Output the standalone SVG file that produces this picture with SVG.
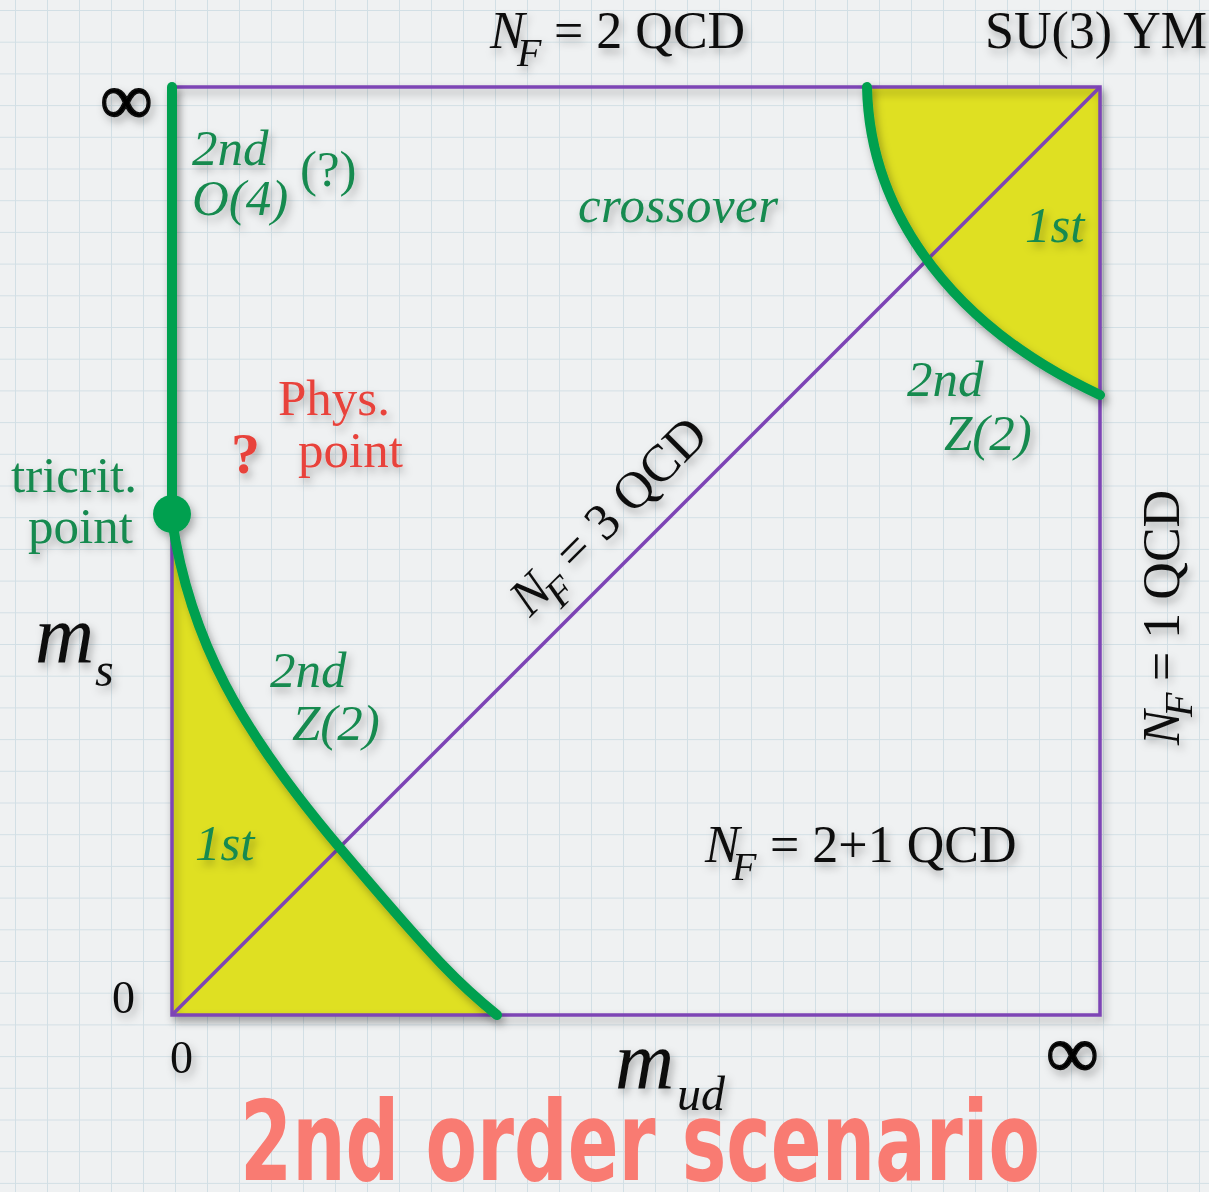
<svg xmlns="http://www.w3.org/2000/svg" width="1209" height="1192" viewBox="0 0 1209 1192">
<defs>
<pattern id="grid" patternUnits="userSpaceOnUse" x="15" y="10" width="32" height="31.7">
<path d="M0,0 H32 M0,0 V31.7" stroke="#d2dfe5" stroke-width="2" fill="none"/>
</pattern>
<filter id="sh" x="-20%" y="-20%" width="140%" height="140%">
<feDropShadow dx="3" dy="5" stdDeviation="4" flood-color="#000" flood-opacity="0.3"/>
</filter>
<style>
.t{font-family:"Liberation Serif","Times New Roman",serif;font-size:51px}
.nf{font-size:52px}
.i{font-style:italic}
.g{fill:#198a50}
.k{fill:#111}
.r{fill:#e8423b}
.sub{font-size:40px}
.big{font-size:82px}
.sm{font-size:48px}
.inf{font-size:74px;stroke:#111;stroke-width:1.5}
.zero{font-size:46px}
.box{fill:none;stroke:#7d44b5;stroke-width:3.5}
.gl{fill:none;stroke:#00a04f;stroke-width:10;stroke-linecap:round}
.y{fill:#dfe023}
</style>
</defs>
<rect width="1209" height="1192" fill="#eff1f2"/>
<rect width="1209" height="1192" fill="url(#grid)"/>

<g id="regions" filter="url(#sh)">
<path class="y" d="M172,528 C190,640 240,730 340,848 S460,985 497,1015 L172,1015 Z"/>
<path class="y" d="M867,87 C870,220 960,330 1100,395 L1100,87 Z"/>
</g>

<g id="connectors">
<path class="box" d="M172,87 H1100 V1015 H172 Z" filter="url(#sh)"/>
<line class="box" x1="172" y1="1015" x2="1100" y2="87"/>
<g filter="url(#sh)">
<line class="gl" x1="172" y1="87" x2="172" y2="514"/>
<path class="gl" d="M172,520 C190,640 240,730 340,848 S460,985 497,1015"/>
<path class="gl" d="M867,87 C870,220 960,330 1100,395"/>
<circle cx="172" cy="514" r="19" fill="#00a04f"/>
</g>
</g>

<g filter="url(#sh)">
<g id="top-label"><text class="t k nf" y="48"><tspan class="i" x="490">N</tspan><tspan class="i sub" x="517" y="66">F</tspan><tspan x="554" y="48">= 2 QCD</tspan></text></g>
<g id="su3"><text class="t k nf" x="985" y="48">SU(3) YM</text></g>
<g id="inf-top"><text class="t inf" x="100" y="124">∞</text></g>
<g id="o4"><text class="t i g" x="192" y="165">2nd</text><text class="t i g" x="192" y="215">O(4)</text><text class="t g" x="300" y="186">(?)</text></g>
<g id="crossover"><text class="t i g" x="578" y="222" textLength="200">crossover</text></g>
<g id="first-tr"><text class="t i g" x="1025" y="242">1st</text></g>
<g id="z2-tr"><text class="t i g" x="907" y="396">2nd</text><text class="t i g" x="944" y="450">Z(2)</text></g>
<g id="phys"><text class="t r" x="278" y="415">Phys.</text><text class="t r" x="298" y="467">point</text><text class="t r" x="231" y="473" style="font-size:58px;font-weight:bold">?</text></g>
<g id="tricrit"><text class="t g" x="11" y="492">tricrit.</text><text class="t g" x="28" y="543">point</text></g>
<g id="ms"><text class="t i k big" x="35" y="662">m</text><text class="t i k sm" x="95" y="686">s</text></g>
<g id="z2-bl"><text class="t i g" x="270" y="687">2nd</text><text class="t i g" x="292" y="740">Z(2)</text></g>
<g id="first-bl"><text class="t i g" x="195" y="860">1st</text></g>
<g id="nf3"><text class="t k nf" transform="translate(530,618) rotate(-45)"><tspan class="i" x="0" y="0">N</tspan><tspan class="i sub" x="28" y="16">F</tspan><tspan x="64" y="0">= 3 QCD</tspan></text></g>
<g id="nf1"><text class="t k nf" transform="translate(1179,745) rotate(-90)"><tspan class="i" x="0" y="0">N</tspan><tspan class="i sub" x="28" y="13">F</tspan><tspan x="64" y="0">= 1 QCD</tspan></text></g>
<g id="nf21"><text class="t k nf" y="862"><tspan class="i" x="705">N</tspan><tspan class="i sub" x="732" y="880">F</tspan><tspan x="770" y="862">= 2+1 QCD</tspan></text></g>
<g id="zero-y"><text class="t k zero" x="112" y="1013">0</text></g>
<g id="zero-x"><text class="t k zero" x="170" y="1073">0</text></g>
<g id="inf-x"><text class="t inf" x="1046" y="1077">∞</text></g>
<g id="mud"><text class="t i k big" x="615" y="1088">m</text><text class="t i k sm" x="677" y="1110">ud</text></g>
</g>
<g id="title"><text x="240" y="1180" font-family="DejaVu Sans Condensed,DejaVu Sans,sans-serif" font-weight="bold" font-size="110" fill="#f97b72" textLength="800" lengthAdjust="spacingAndGlyphs">2nd order scenario</text></g>
</svg>
